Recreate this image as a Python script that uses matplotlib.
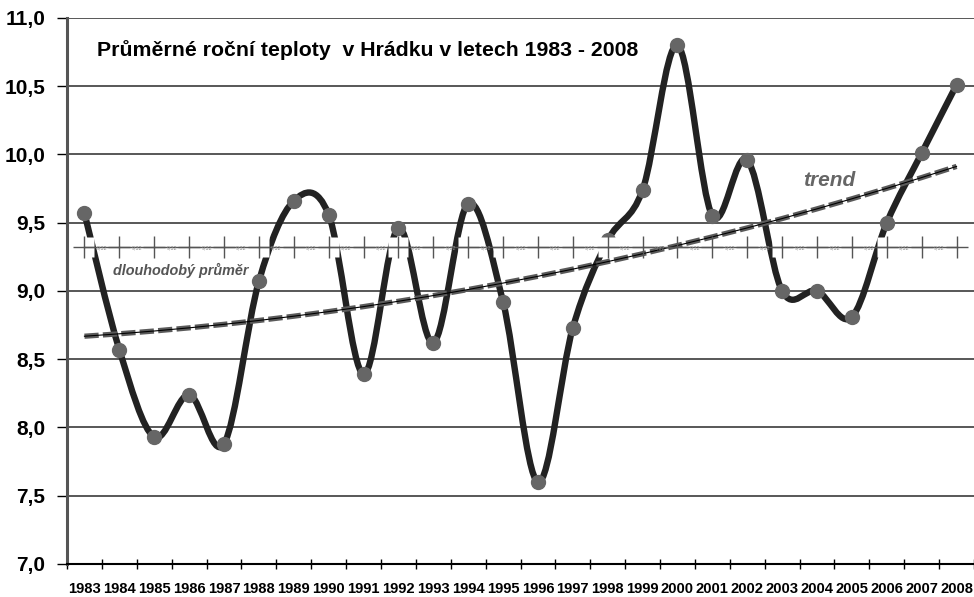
import numpy as np
import matplotlib
matplotlib.use("Agg")
import matplotlib.pyplot as plt
from matplotlib.path import Path
from matplotlib.patches import PathPatch

plt.rcParams["font.family"] = ["Liberation Sans", "DejaVu Sans"]

# data
years = list(range(1983, 2009))
teploty = [9.57, 8.57, 7.93, 8.24, 7.88, 9.07, 9.66, 9.56, 8.39, 9.46,
           8.62, 9.64, 8.92, 7.60, 8.73, 9.37, 9.74, 10.80, 9.55, 9.96,
           9.00, 9.00, 8.81, 9.50, 10.01, 10.51]
prumer = 9.32
yticks = [7.0, 7.5, 8.0, 8.5, 9.0, 9.5, 10.0, 10.5, 11.0]
title = "Průměrné roční teploty  v Hrádku v letech 1983 - 2008"


def smooth_path(x, y):
    # bezier curve through all points, like the smoothed line in a spreadsheet
    pts = np.column_stack([x, y])
    n = len(pts)
    verts = [pts[0]]
    codes = [Path.MOVETO]
    for i in range(n - 1):
        p0 = pts[max(i - 1, 0)]
        p1 = pts[i]
        p2 = pts[i + 1]
        p3 = pts[min(i + 2, n - 1)]
        verts += [p1 + (p2 - p0) / 6, p2 - (p3 - p1) / 6, p2]
        codes += [Path.CURVE4] * 3
    return Path(verts, codes)


x = np.arange(len(years))
n = len(years)

fig = plt.figure(figsize=(9.74, 5.97), dpi=100)
ax = fig.add_axes([0.0688, 0.0553, 0.9312, 0.9146])

# main curve
ax.add_patch(PathPatch(smooth_path(x, teploty), fc="none", ec="#222222",
                       lw=4.6, capstyle="round", joinstyle="round", zorder=3))
ax.plot(x, teploty, "o", ms=10, color="#666666", mec="#666666", zorder=3.5)

# long-term average (white boxes hide the curve under the markers)
avg = [prumer] * n
ax.plot(x, avg, "s", ms=14.5, mfc="white", mec="none", zorder=4)
ax.plot(x, avg, color="#555555", lw=1, marker="+", ms=16, mew=1, zorder=5)
for i in range(n - 1):
    ax.text(i + 0.5, prumer, f"{prumer:.2f}".replace(".", ","), fontsize=3.8,
            color="#8a8a8a", ha="center", va="center", zorder=5.5)

# quadratic trend
coef = np.polyfit(x, teploty, 2)
trend = np.polyval(coef, x)
ax.plot(x, trend, color="#5a5a5a", lw=3.8, ls=(0, (2.7, 0.8)), zorder=4.5)
ax.plot(x, trend, color="black", lw=0.8, zorder=4.6)

ax.text(0.033, 0.9414, title, transform=ax.transAxes, fontsize=15.3,
        fontweight="bold", va="center", ha="left")
ax.text(0.0507, 0.5385, "dlouhodobý průměr", transform=ax.transAxes,
        fontsize=10.4, fontweight="bold", fontstyle="italic", color="#555555",
        va="center", ha="left")
ax.text(0.8115, 0.703, "trend", transform=ax.transAxes, fontsize=15,
        fontweight="bold", fontstyle="italic", color="#666666",
        va="center", ha="left")

ax.set_xlim(-0.5, n - 0.5)
ax.set_ylim(7, 11)

ax.set_yticks(yticks)
ax.set_yticklabels([f"{v:.1f}".replace(".", ",") for v in yticks],
                   fontsize=15, fontweight="bold")
ax.tick_params(axis="y", length=7, width=1, color="black", pad=8.5)

ax.set_xticks(np.arange(-0.5, n, 1))
ax.set_xticklabels([])
ax.set_xticks(x, minor=True)
ax.set_xticklabels([str(y) for y in years], minor=True, fontsize=10.6,
                   fontweight="bold")
ax.tick_params(axis="x", which="major", direction="inout", length=7,
               width=1, color="black")
ax.tick_params(axis="x", which="minor", length=0, pad=13)

ax.yaxis.grid(True, color="#4a4a4a", lw=1.3)
ax.set_axisbelow(True)

ax.spines["top"].set_visible(False)
ax.spines["right"].set_visible(False)
ax.spines["left"].set_color("#555555")
ax.spines["left"].set_linewidth(2.2)
ax.spines["bottom"].set_color("black")
ax.spines["bottom"].set_linewidth(1.5)

fig.savefig("out.png", dpi=100)
